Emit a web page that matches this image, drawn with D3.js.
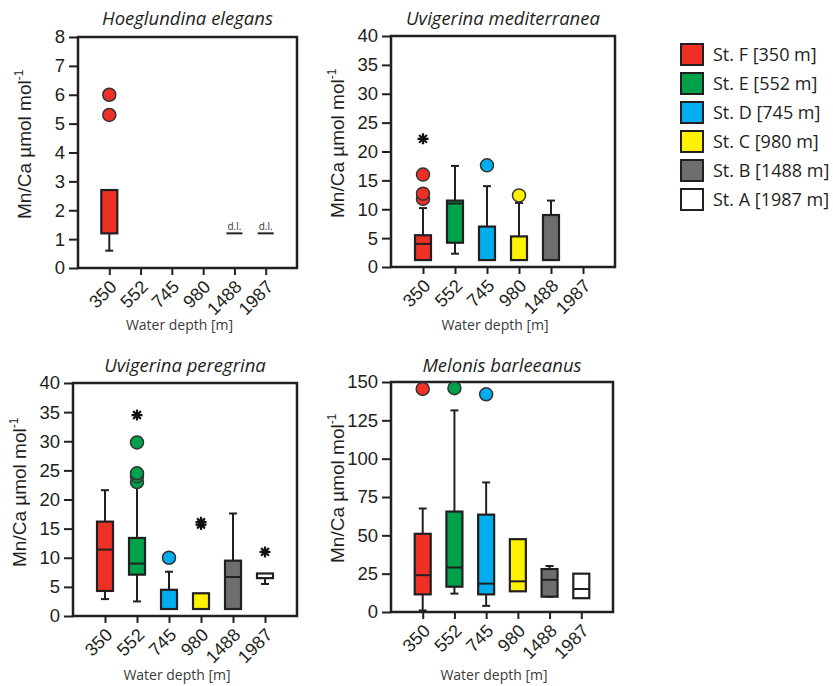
<!DOCTYPE html>
<html><head><meta charset="utf-8">
<script src="https://cdn.jsdelivr.net/npm/d3@7"></script>
<style>
body{margin:0;background:#fff;}
svg{display:block;}
</style></head>
<body>
<svg id="chart" width="833" height="686"></svg>
<script>
const depths = ["350","552","745","980","1488","1987"];
const stationColors = ["#ee3124","#00a14b","#00aeef","#fff200","#6d6e70","#ffffff"];
const legendLabels = ["St. F [350 m]","St. E [552 m]","St. D [745 m]","St. C [980 m]","St. B [1488 m]","St. A [1987 m]"];

// box records: depth, q1, median, q3, lower whisker, upper whisker, circle outliers, extreme (asterisk) outliers
const hoeglundina = [
  {depth:"350", q1:1.2, med:null, q3:2.7, lo:0.6, hi:null, circles:[6.0,5.3], stars:[]}
];
const hoeglundinaDL = [{depth:"1488", v:1.2},{depth:"1987", v:1.2}];
const mediterranea = [
  {depth:"350", q1:1.2, med:4.0, q3:5.5, lo:null, hi:10.2, circles:[11.8,12.7,16.0], stars:[22.2]},
  {depth:"552", q1:4.2, med:11.0, q3:11.5, lo:2.3, hi:17.5, circles:[], stars:[]},
  {depth:"745", q1:1.2, med:null, q3:7.0, lo:null, hi:14.0, circles:[17.6], stars:[]},
  {depth:"980", q1:1.2, med:null, q3:5.3, lo:null, hi:11.1, circles:[12.4], stars:[]},
  {depth:"1488", q1:1.2, med:null, q3:9.0, lo:null, hi:11.5, circles:[], stars:[]}
];
const peregrina = [
  {depth:"350", q1:4.3, med:11.4, q3:16.2, lo:2.9, hi:21.6, circles:[], stars:[]},
  {depth:"552", q1:7.1, med:9.0, q3:13.4, lo:2.5, hi:22.5, circles:[23.0,24.0,24.5,29.8], stars:[34.5]},
  {depth:"745", q1:1.2, med:null, q3:4.5, lo:null, hi:7.6, circles:[10.0], stars:[]},
  {depth:"980", q1:1.2, med:null, q3:3.9, lo:null, hi:null, circles:[], stars:[15.7,16.1]},
  {depth:"1488", q1:1.2, med:6.7, q3:9.5, lo:null, hi:17.6, circles:[], stars:[]},
  {depth:"1987", q1:6.5, med:null, q3:7.3, lo:5.5, hi:null, circles:[], stars:[11.0]}
];
const barleeanus = [
  {depth:"350", q1:11.5, med:24, q3:51, lo:1, hi:67.5, circles:[145.5], stars:[]},
  {depth:"552", q1:16.5, med:29, q3:65.5, lo:12, hi:131.5, circles:[146], stars:[]},
  {depth:"745", q1:11.5, med:18.5, q3:63.5, lo:4, hi:84.5, circles:[142], stars:[]},
  {depth:"980", q1:13.5, med:20, q3:47.5, lo:null, hi:null, circles:[], stars:[]},
  {depth:"1488", q1:10, med:21, q3:28, lo:10, hi:30, circles:[], stars:[]},
  {depth:"1987", q1:9, med:15, q3:25, lo:null, hi:null, circles:[], stars:[]}
];
const yTicks1 = [0,1,2,3,4,5,6,7,8];
const yTicks2 = [0,5,10,15,20,25,30,35,40];
const yTicks4 = [0,25,50,75,100,125,150];

const panels = [
  {title:"Hoeglundina elegans", data:hoeglundina, dl:hoeglundinaDL, x:[78,297], y:[268,37], dom:[0,8], ticks:yTicks1, titleY:25, xTitleY:330},
  {title:"Uvigerina mediterranea", data:mediterranea, dl:[], x:[391,615], y:[267,36], dom:[0,40], ticks:yTicks2, titleY:25, xTitleY:330},
  {title:"Uvigerina peregrina", data:peregrina, dl:[], x:[73,297], y:[616,383], dom:[0,40], ticks:yTicks2, titleY:372, xTitleY:680},
  {title:"Melonis barleeanus", data:barleeanus, dl:[], x:[391,613], y:[612,382], dom:[0,150], ticks:yTicks4, titleY:372, xTitleY:680}
];

const svg = d3.select("#chart");
const ink = "#231f20";
const colorScale = d3.scaleOrdinal().domain(depths).range(stationColors);
const tickFont = "Liberation Sans, Arial, sans-serif";
const textFont = "'Open Sans', 'Noto Sans', sans-serif";

panels.forEach(p => {
  const g = svg.append("g");
  const x = d3.scalePoint().domain(depths).range(p.x).padding(1);
  const y = d3.scaleLinear().domain(p.dom).range(p.y);
  const left = p.x[0], right = p.x[1], top = p.y[1], bottom = p.y[0];

  // axes
  const yAx = g.append("g").attr("transform",`translate(${left},0)`)
    .call(d3.axisLeft(y).tickValues(p.ticks).tickSize(9).tickPadding(4).tickFormat(d3.format("d")));
  yAx.select(".domain").remove();
  yAx.selectAll("line").attr("stroke",ink).attr("stroke-width",2);
  yAx.selectAll("text").attr("font-family",tickFont).attr("font-size",18.5).attr("fill",ink);

  const xAx = g.append("g").attr("transform",`translate(0,${bottom})`)
    .call(d3.axisBottom(x).tickSize(7).tickPadding(4));
  xAx.select(".domain").remove();
  xAx.selectAll("line").attr("stroke",ink).attr("stroke-width",2);
  xAx.selectAll("text").attr("font-family",tickFont).attr("font-size",18).attr("fill",ink)
    .attr("text-anchor","end").attr("dy",null).attr("y",0)
    .attr("transform","translate(8,20) rotate(-45)");

  // frame
  g.append("rect").attr("x",left).attr("y",top).attr("width",right-left).attr("height",bottom-top)
    .attr("fill","none").attr("stroke",ink).attr("stroke-width",2.5);

  const bw = 16, cap = 8;
  p.data.forEach(d => {
    const cx = x(d.depth);
    const bg = g.append("g");
    if (d.lo !== null) {
      bg.append("line").attr("x1",cx).attr("x2",cx).attr("y1",y(d.q1)).attr("y2",y(d.lo)).attr("stroke",ink).attr("stroke-width",2);
      bg.append("line").attr("x1",cx-cap/2).attr("x2",cx+cap/2).attr("y1",y(d.lo)).attr("y2",y(d.lo)).attr("stroke",ink).attr("stroke-width",2);
    }
    if (d.hi !== null) {
      bg.append("line").attr("x1",cx).attr("x2",cx).attr("y1",y(d.q3)).attr("y2",y(d.hi)).attr("stroke",ink).attr("stroke-width",2);
      bg.append("line").attr("x1",cx-cap/2).attr("x2",cx+cap/2).attr("y1",y(d.hi)).attr("y2",y(d.hi)).attr("stroke",ink).attr("stroke-width",2);
    }
    bg.append("rect").attr("x",cx-bw/2).attr("width",bw).attr("y",y(d.q3)).attr("height",y(d.q1)-y(d.q3))
      .attr("fill",colorScale(d.depth)).attr("stroke",ink).attr("stroke-width",2.2);
    if (d.med !== null) {
      bg.append("line").attr("x1",cx-bw/2).attr("x2",cx+bw/2).attr("y1",y(d.med)).attr("y2",y(d.med)).attr("stroke",ink).attr("stroke-width",2);
    }
    d.circles.forEach(v => {
      bg.append("circle").attr("cx",cx).attr("cy",y(v)).attr("r",6.5)
        .attr("fill",colorScale(d.depth)).attr("stroke","#333").attr("stroke-width",1.5);
    });
    d.stars.forEach(v => {
      const cy = y(v), r = 5.5;
      const path = d3.path();
      for (let k = 0; k < 4; k++) {
        const a = k*Math.PI/4;
        path.moveTo(cx - r*Math.sin(a), cy - r*Math.cos(a));
        path.lineTo(cx + r*Math.sin(a), cy + r*Math.cos(a));
      }
      bg.append("path").attr("d",path.toString()).attr("stroke","#111").attr("stroke-width",2.2).attr("fill","none");
    });
  });

  p.dl.forEach(d => {
    const cx = x(d.depth);
    g.append("line").attr("x1",cx-8).attr("x2",cx+8).attr("y1",y(d.v)).attr("y2",y(d.v)).attr("stroke",ink).attr("stroke-width",2);
    g.append("text").attr("x",cx).attr("y",y(d.v)-3).attr("text-anchor","middle")
      .attr("font-family",textFont).attr("font-size",10).attr("fill","#333").text("d.l.");
  });

  // titles
  g.append("text").attr("x",(left+right)/2).attr("y",p.titleY).attr("text-anchor","middle")
    .attr("font-family",textFont).attr("font-style","italic").attr("font-size",18.5).attr("fill",ink).text(p.title);
  g.append("text").attr("x",(left+right)/2-8).attr("y",p.xTitleY).attr("text-anchor","middle")
    .attr("font-family",textFont).attr("font-size",14).attr("fill","#3a3a3a").text("Water depth [m]");
  const yt = g.append("text").attr("transform",`translate(${left-47},${bottom-49}) rotate(-90)`)
    .attr("text-anchor","start").attr("font-family",tickFont).attr("font-size",19).attr("fill",ink);
  yt.append("tspan").text("Mn/Ca µmol mol");
  yt.append("tspan").attr("font-size",12).attr("dy",-8).text("-1");
});

// legend
const lg = svg.append("g");
legendLabels.forEach((t,i) => {
  lg.append("rect").attr("x",681).attr("y",44+i*29).attr("width",22).attr("height",21)
    .attr("fill",stationColors[i]).attr("stroke",ink).attr("stroke-width",2);
  lg.append("text").attr("x",713).attr("y",44+i*29+17).attr("font-family",textFont).attr("font-size",18)
    .attr("fill",ink).text(t);
});
</script>
</body></html>
